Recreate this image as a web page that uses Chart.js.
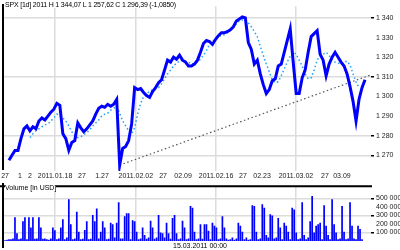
<!DOCTYPE html>
<html>
<head>
<meta charset="utf-8">
<script src="https://cdn.jsdelivr.net/npm/chart.js@4.4.1/dist/chart.umd.min.js"></script>
<style>
  html, body { margin: 0; padding: 0; background: #fff; }
  #wrap { position: relative; width: 400px; height: 250px; overflow: hidden; }
  #price { position: absolute; left: 0; top: 0; }
  #vol { position: absolute; left: 0; top: 180px; }
  .lbl { position: absolute; font: 7px "Liberation Sans", Arial, sans-serif; color: #000; white-space: nowrap; background: #fff; }
  #head { left: 5px; top: 1px; letter-spacing: -0.2px; }
  #vtitle { left: 5px; top: 184px; }
  #foot { left: 0; width: 400px; top: 242px; text-align: center; background: transparent; }
</style>
</head>
<body>
<div id="wrap">
  <canvas id="price" width="400" height="180"></canvas>
  <canvas id="vol" width="400" height="70"></canvas>
  <div class="lbl" id="head">SPX [1d] 2011 H 1 344,07 L 1 257,62 C 1 296,39 (-1,0850)</div>
  <div class="lbl" id="vtitle">Volume [in USD]</div>
  <div class="lbl" id="foot">15.03.2011 00:00</div>
</div>
<script>
// price bars (one every session step)
var closes = [1267.5,1270,1272.5,1272.5,1278.5,1283.5,1285,1282.5,1284.5,1283.5,
  1287.5,1289,1288,1290,1292,1293.5,1296.5,1295.5,1281,1278.5,
  1272.5,1276.5,1277.5,1286.5,1284,1282,1283.5,1285.5,1287.5,1291,
  1294,1295,1294.5,1296,1295,1296,1298.5,1265,1273.5,1274.5,
  1277.5,1286,1304.5,1303.5,1304,1302,1300.5,1299.5,1302.5,1304.5,
  1307,1308.5,1313.5,1318.5,1317.5,1320,1319,1321,1318.5,1317.5,
  1315.5,1315.5,1316.5,1318.5,1322.5,1327,1328.5,1328,1326.5,1329,
  1331,1332.5,1332.5,1333,1334,1335.5,1338.5,1339.5,1340.5,1340,
  1327.5,1324,1316.5,1318.5,1311.5,1306,1301.5,1303.5,1308,1309,
  1315.5,1316.5,1322.5,1328.5,1334.5,1317.5,1301.5,1301.5,1309.5,1313.5,
  1322.5,1330.5,1332,1333.5,1321.5,1318.5,1310.5,1316.5,1320,1322.5,
  1320,1317.5,1315.5,1311.5,1305,1297.5,1287.5,1298.5,1304.5,1308.5];

// moving average (dotted), starts at bar 7
var maStart = 7;
var maVals = [1279,1281,1282.5,1283.5,1284.5,1285.5,1286,1287.5,1289,1291,
  1290.5,1289,1287.5,1285,1282,1280,1279,1279.5,1280.5,1281.5,
  1283,1285,1286.5,1288,1290,1291,1291.5,1293,1294,1295,
  1291.5,1287.5,1285,1282.5,1281,1284,1291,1296.5,1300,1301.5,
  1302.5,1303.5,1304,1304.5,1306.5,1309,1311.5,1313.5,1315.5,1317,
  1318,1318.5,1318,1317.5,1316.5,1317,1317.5,1319,1321,1323.5,
  1326.5,1328,1329.5,1330.5,1331,1331.5,1332.5,1334,1335.5,1337,
  1338.5,1339,1339,1337.5,1335.5,1333,1330.5,1325.5,1321,1316.5,
  1312.5,1308.5,1307,1307.5,1310.5,1314,1317.5,1320.5,1322.5,1321.5,
  1318.5,1315.5,1311.5,1309,1309.5,1313.5,1318.5,1320.5,1321.5,1322.5,
  1321,1318.5,1317.5,1317,1316.5,1317.5,1318,1316,1311.5,1307.5,1304.5];

// support trend line
var trendX = [37, 121];
var trendY = [1265, 1311];

// volume, thousands, 1.5 bars per price bar
var volumes = [10,15,20,20,30,278,92,20,30,233,
  278,20,278,160,278,25,30,278,160,25,
  30,20,15,30,160,125,20,30,160,256,
  20,40,490,197,20,30,344,110,20,25,
  130,233,20,25,307,233,381,30,110,233,
  160,20,25,215,197,40,215,455,30,30,
  290,325,325,20,244,233,110,20,30,160,
  70,25,40,237,160,25,40,307,100,90,
  40,215,90,25,270,307,90,20,30,237,
  160,20,30,410,390,110,20,30,197,25,
  197,197,120,20,215,180,160,20,30,290,
  160,30,15,20,40,15,30,215,180,110,
  20,40,15,20,420,410,110,20,30,433,
  392,70,40,315,300,30,40,270,160,20,
  215,180,110,20,392,370,100,20,30,455,
  70,20,40,233,530,100,180,197,215,20,
  420,180,70,20,490,197,100,20,30,410,
  110,20,30,455,180,30,20,180,140,20];

var xTickAt = [-1.3, 3.7, 7, 15.4, 24.4, 31.1, 42.4, 51.5, 58.2, 69.2, 78.2, 84.6, 95.9, 105.6, 111.3];
var xTickText = ['27', '1', '2', '2011.01.18', '27', '1.27', '2011.02.02', '27', '02.09', '2011.02.16', '27', '02.23', '2011.03.02', '27', '03.09'];
var xMajor = ['2011.01.18', '2011.02.02', '2011.02.16', '2011.03.02'];

var priceTicks = [1340, 1330, 1320, 1310, 1300, 1290, 1280, 1270];
var priceGrid = [1340, 1310, 1280, 1270];
var volTicks = [100000, 200000, 300000, 400000, 500000];
var volGrid = [100000, 300000, 500000];

Chart.defaults.font.family = '"Liberation Sans", Arial, sans-serif';
Chart.defaults.font.size = 7;
Chart.defaults.color = '#000';

var GRID = '#dcdcdc';

function spaced(v) {
  return String(v).replace(/\B(?=(\d{3})+(?!\d))/g, ' ');
}

var majorAt = xTickAt.filter(function(v, i) { return xMajor.indexOf(xTickText[i]) >= 0; });

// black frame lines
var framePlugin = {
  id: 'frame',
  afterDraw: function(chart, args, opts) {
    var c = chart.ctx, a = chart.chartArea;
    c.save();
    c.strokeStyle = '#000';
    c.lineWidth = 2;
    c.beginPath();
    c.moveTo(a.left, opts.leftTop);
    c.lineTo(a.left, opts.leftBottom);
    if (opts.topLine) {
      c.moveTo(0, a.top);
      c.lineTo(a.right + 1, a.top);
    }
    c.stroke();
    c.restore();
  }
};

var pricePts = closes.map(function(v, i) { return { x: i, y: v }; });
var maPts = maVals.map(function(v, i) { return { x: i + maStart, y: v }; });
var trendPts = trendX.map(function(v, i) { return { x: v, y: trendY[i] }; });

new Chart(document.getElementById('price'), {
  type: 'line',
  data: {
    datasets: [{
      data: pricePts,
      borderColor: '#0000ff',
      borderWidth: 3,
      pointRadius: 0,
      tension: 0,
      order: 1
    }, {
      data: maPts,
      borderColor: '#1ea0ff',
      borderWidth: 1.5,
      borderDash: [1.5, 2.5],
      pointRadius: 0,
      order: 2
    }, {
      data: trendPts,
      borderColor: '#555',
      borderWidth: 1.2,
      borderDash: [1.5, 2.5],
      pointRadius: 0,
      order: 3
    }]
  },
  options: {
    responsive: false,
    animation: false,
    devicePixelRatio: 1,
    layout: { padding: { left: 3, top: 3, right: 0, bottom: 0 } },
    plugins: {
      legend: { display: false },
      tooltip: { enabled: false },
      frame: { leftTop: 4, leftBottom: 170, topLine: false }
    },
    scales: {
      x: {
        type: 'linear',
        min: -2,
        max: 121,
        offset: false,
        border: { display: false },
        grid: {
          drawTicks: false,
          lineWidth: 1.5,
          color: function(ctx) {
            return ctx.tick && majorAt.indexOf(ctx.tick.value) >= 0 ? GRID : 'rgba(0,0,0,0)';
          }
        },
        afterBuildTicks: function(scale) {
          scale.ticks = xTickAt.map(function(v) { return { value: v }; });
        },
        afterFit: function(scale) { scale.height = 9; },
        ticks: {
          autoSkip: false,
          maxRotation: 0,
          padding: 1,
          color: '#222',
          callback: function(v, i) { return xTickText[i]; }
        }
      },
      y: {
        position: 'right',
        min: 1262,
        max: 1346,
        border: { display: false },
        grid: {
          lineWidth: 1.5,
          tickLength: 3,
          color: function(ctx) {
            return ctx.tick && priceGrid.indexOf(ctx.tick.value) >= 0 ? GRID : 'rgba(0,0,0,0)';
          },
          tickColor: function(ctx) {
            return ctx.tick && priceGrid.indexOf(ctx.tick.value) >= 0 ? '#000' : 'rgba(0,0,0,0)';
          }
        },
        afterBuildTicks: function(scale) {
          scale.ticks = priceTicks.map(function(v) { return { value: v }; });
        },
        afterFit: function(scale) { scale.width = 29; },
        ticks: {
          padding: 2,
          color: '#222',
          callback: function(v) { return spaced(v); }
        }
      }
    }
  },
  plugins: [framePlugin]
});

var volPts = volumes.map(function(v, k) { return { x: k * 2 / 3 - 4 / 3, y: v * 1000 }; });

new Chart(document.getElementById('vol'), {
  type: 'bar',
  data: {
    datasets: [{
      data: volPts,
      backgroundColor: '#0000ff',
      borderWidth: 0,
      barPercentage: 0.85,
      categoryPercentage: 1
    }]
  },
  options: {
    responsive: false,
    animation: false,
    devicePixelRatio: 1,
    layout: { padding: { left: 3, top: 3, right: 0, bottom: 0 } },
    plugins: {
      legend: { display: false },
      tooltip: { enabled: false },
      frame: { leftTop: 3, leftBottom: 68, topLine: true }
    },
    scales: {
      x: {
        type: 'linear',
        min: -2,
        max: 121,
        offset: false,
        border: { display: false },
        grid: { drawTicks: false, lineWidth: 1.5, color: GRID, offset: false },
        afterBuildTicks: function(scale) {
          scale.ticks = majorAt.map(function(v) { return { value: v }; });
        },
        afterFit: function(scale) { scale.height = 9; },
        ticks: { display: false }
      },
      y: {
        position: 'right',
        min: 0,
        max: 644000,
        border: { display: false },
        grid: {
          lineWidth: 1.5,
          tickLength: 3,
          color: function(ctx) {
            return ctx.tick && volGrid.indexOf(ctx.tick.value) >= 0 ? GRID : 'rgba(0,0,0,0)';
          },
          tickColor: function(ctx) {
            return ctx.tick && volGrid.indexOf(ctx.tick.value) >= 0 ? '#000' : 'rgba(0,0,0,0)';
          }
        },
        afterBuildTicks: function(scale) {
          scale.ticks = volTicks.map(function(v) { return { value: v }; });
        },
        afterFit: function(scale) { scale.width = 29; },
        ticks: {
          padding: 2,
          color: '#222',
          callback: function(v) { return spaced(v); }
        }
      }
    }
  },
  plugins: [framePlugin]
});
</script>
</body>
</html>
